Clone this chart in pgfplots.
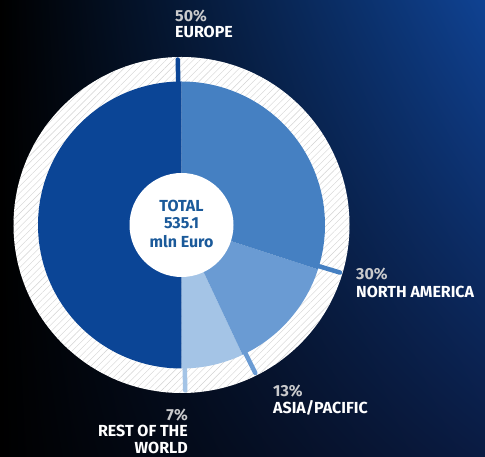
\documentclass[border=0pt]{standalone}
\usepackage{pgfplots}
\pgfplotsset{compat=1.18}
\usepackage{pgfplotstable}
\usepackage{fontspec}
\setmainfont{Fira Sans}
\usetikzlibrary{patterns.meta,shadings}
\definecolor{eu}{HTML}{0B4596}
\definecolor{na}{HTML}{4580C2}
\definecolor{ap}{HTML}{6A9BD3}
\definecolor{rw}{HTML}{A4C4E6}
\definecolor{txtblue}{HTML}{1B5A9A}
\definecolor{pctgray}{HTML}{C9CACC}
\definecolor{bgblue}{HTML}{0F4292}
\definecolor{bgnavy}{HTML}{0A1B42}

% shares, in counter-clockwise order starting at 12 o'clock
\pgfplotstableread{
name pct col
Europe 50 eu
Rest 7 rw
Asia 13 ap
NorthAmerica 30 na
}\shares

\begin{document}
\begin{tikzpicture}
\xdef\cum{90}
\foreach \i in {0,...,3}{%
  \pgfplotstablegetelem{\i}{pct}\of\shares
  \pgfmathsetmacro\a{\cum}%
  \pgfmathsetmacro\b{\cum+3.6*\pgfplotsretval}%
  \expandafter\xdef\csname angA\i\endcsname{\a}%
  \expandafter\xdef\csname angB\i\endcsname{\b}%
  \xdef\cum{\b}%
  \pgfplotstablegetelem{\i}{col}\of\shares
  \expandafter\xdef\csname col\i\endcsname{\pgfplotsretval}%
}
\begin{axis}[x=1pt,y=1pt,xmin=0,xmax=485,ymin=0,ymax=457,hide axis,clip=false]
 \shade[upper left=black, lower left=black, upper right=bgblue, lower right=bgnavy]
   (axis cs:0,0) rectangle (axis cs:485,457);
 % hatched ring
 \fill[white] (axis cs:181.5,232) circle[radius=168pt];
 \fill[pattern={Lines[angle=45,distance=4.8pt,line width=0.4pt]}, pattern color=gray!35]
   (axis cs:181.5,232) circle[radius=168pt];
 % sectors
 \pgfplotsinvokeforeach{0,...,3}{
   \fill[\csname col#1\endcsname] (axis cs:181.5,232) -- ++(\csname angA#1\endcsname:143.5pt)
     arc[start angle=\csname angA#1\endcsname, end angle=\csname angB#1\endcsname, radius=143.5pt] -- cycle;
 }
 \pgfplotsinvokeforeach{0,...,3}{
   \draw[\csname col#1\endcsname, line width=4.5pt, line cap=round]
     ([shift={(\csname angA#1\endcsname+1.3:140pt)}]axis cs:181.5,232) --
     ([shift={(\csname angA#1\endcsname+1.3:165.5pt)}]axis cs:181.5,232);
 }
 \fill[white] (axis cs:181.5,232) circle[radius=52pt];
 % centre text
 \begin{scope}[every node/.style={font=\fontsize{16}{18}\selectfont\bfseries, text=txtblue, inner sep=0pt}]
 \node[anchor=base] at (axis cs:181.5,245.3) {TOTAL};
 \node[anchor=base] at (axis cs:181.5,228.3) {535.1};
 \node[anchor=base] at (axis cs:181.5,209) {mln Euro};
 \end{scope}
 % labels
 \begin{scope}[every node/.style={font=\fontsize{16}{18}\selectfont\bfseries, inner sep=0pt}]
 \node[anchor=base west, text=pctgray] at (axis cs:175,435.5) {50\%};
 \node[anchor=base west, text=white] at (axis cs:175,419) {EUROPE};
 \node[anchor=base west, text=pctgray] at (axis cs:356,177) {30\%};
 \node[anchor=base west, text=white] at (axis cs:356,159) {NORTH AMERICA};
 \node[anchor=base west, text=pctgray] at (axis cs:273,60) {13\%};
 \node[anchor=base west, text=white] at (axis cs:273,43) {ASIA/PACIFIC};
 \node[anchor=base east, text=pctgray] at (axis cs:188,36.5) {7\%};
 \node[anchor=base east, text=white] at (axis cs:188,20) {REST OF THE};
 \node[anchor=base east, text=white] at (axis cs:188,3.5) {WORLD};
 \end{scope}
\end{axis}
\end{tikzpicture}
\end{document}
